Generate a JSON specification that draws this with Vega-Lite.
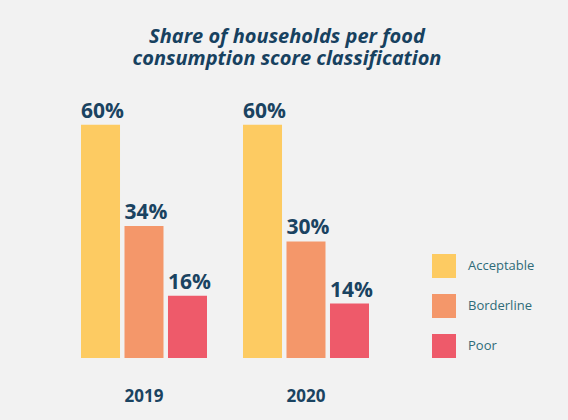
{
  "$schema": "https://vega.github.io/schema/vega-lite/v6.json",
  "autosize": {"type": "none"},
  "width": 324,
  "height": 272,
  "padding": {"left": 63, "top": 86, "right": 181, "bottom": 62},
  "background": "#F2F2F2",
  "title": {
    "text": ["Share of households per food", "consumption score classification"],
    "anchor": "middle",
    "frame": "group",
    "dx": 62,
    "font": "Open Sans",
    "fontStyle": "italic",
    "fontWeight": "bold",
    "fontSize": 20,
    "lineHeight": 22,
    "color": "#17415F",
    "offset": 17
  },
  "data": {
    "values": [
      {"year": "2019", "category": "Acceptable", "share": 0.60},
      {"year": "2019", "category": "Borderline", "share": 0.34},
      {"year": "2019", "category": "Poor", "share": 0.16},
      {"year": "2020", "category": "Acceptable", "share": 0.60},
      {"year": "2020", "category": "Borderline", "share": 0.30},
      {"year": "2020", "category": "Poor", "share": 0.14}
    ]
  },
  "encoding": {
    "x": {
      "field": "year",
      "type": "nominal",
      "scale": {"paddingInner": 0.2222, "paddingOuter": 0.1111},
      "axis": {
        "title": null,
        "labelAngle": 0,
        "domain": false,
        "ticks": false,
        "labelPadding": 30,
        "labelFont": "Open Sans",
        "labelFontWeight": "bold",
        "labelFontSize": 17,
        "labelColor": "#1A4361"
      }
    },
    "xOffset": {
      "field": "category",
      "type": "nominal",
      "scale": {"paddingInner": 0.103, "paddingOuter": 0}
    },
    "y": {
      "field": "share",
      "type": "quantitative",
      "scale": {"domain": [0, 0.7]},
      "axis": null
    }
  },
  "layer": [
    {
      "mark": {"type": "bar"},
      "encoding": {
        "color": {
          "field": "category",
          "type": "nominal",
          "scale": {
            "domain": ["Acceptable", "Borderline", "Poor"],
            "range": ["#FDCB62", "#F4976A", "#EE5A6A"]
          },
          "legend": {
            "title": null,
            "orient": "none",
            "legendX": 369,
            "legendY": 168,
            "symbolType": "square",
            "symbolSize": 576,
            "symbolStrokeWidth": 0,
            "symbolOpacity": 1,
            "labelFont": "Open Sans",
            "labelFontSize": 13,
            "labelColor": "#2F6B78",
            "labelOffset": 12,
            "rowPadding": 16
          }
        }
      }
    },
    {
      "mark": {
        "type": "text",
        "align": "left",
        "baseline": "alphabetic",
        "dx": -19.5,
        "dy": -7,
        "font": "Open Sans",
        "fontWeight": "bold",
        "fontSize": 21,
        "color": "#1A4361"
      },
      "encoding": {
        "text": {"field": "share", "type": "quantitative", "format": ".0%"}
      }
    }
  ],
  "config": {
    "view": {"stroke": null}
  }
}
